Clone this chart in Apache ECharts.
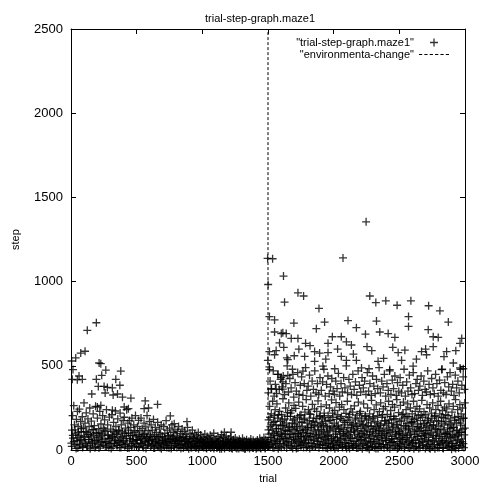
<!DOCTYPE html>
<html>
<head>
<meta charset="utf-8">
<title>trial-step-graph.maze1</title>
<script src="https://cdn.jsdelivr.net/npm/echarts@6/dist/echarts.min.js"></script>
<style>
  html, body { margin: 0; padding: 0; background: #fff; }
  #main { width: 486px; height: 489px; }
</style>
</head>
<body>
<div id="main"></div>
<script>
// 数据：从图上估读的 [trial, step]
const chartTitle = 'trial-step-graph.maze1';
const seriesName = '"trial-step-graph.maze1"';
const changeName = '"environmenta-change"';
const changeTrial = 1500;
const xMax = 3000;
const yMax = 2500;

// 环境变化前，底部密集带
const beforeLow = [
  [3,42],[8,118],[12,205],[15,71],[21,264],[26,150],[30,33],[35,96],[41,182],[46,57],[49,230],
  [52,12],[55,140],[61,88],[64,243],[68,29],[73,170],[77,110],[82,61],[86,198],[91,20],[95,132],[99,280],
  [103,75],[107,160],[112,38],[116,221],[120,105],[125,18],[129,185],[134,64],[138,140],[143,250],[147,92],
  [151,30],[155,172],[160,120],[164,48],[169,215],[173,86],[178,145],[182,14],[187,260],[191,104],[196,58],
  [201,190],[205,35],[210,128],[214,76],[219,230],[223,22],[228,155],[232,95],[237,50],[241,205],[246,130],
  [252,66],[256,180],[261,25],[265,112],[270,240],[274,45],[279,150],[283,88],[288,15],[292,196],[297,70],
  [302,125],[306,38],[311,210],[315,82],[320,20],[324,165],[329,102],[333,55],[338,232],[342,140],[347,28],
  [352,90],[356,185],[361,48],[365,120],[370,15],[374,220],[379,72],[383,150],[388,35],[392,108],[397,175],
  [401,58],[406,195],[410,22],[415,130],[419,85],[424,240],[428,40],[433,160],[437,100],[442,12],[446,175],
  [451,68],[455,135],[460,28],[464,190],[469,88],[473,50],[478,150],[482,18],[487,115],[491,205],[496,62],
  [502,35],[506,140],[511,92],[515,176],[520,20],[524,115],[529,60],[533,190],[538,42],[542,128],[547,80],
  [552,15],[556,160],[561,100],[565,48],[570,138],[574,70],[579,205],[583,30],[588,115],[592,55],[597,170],
  [601,90],[606,22],[610,150],[615,62],[619,118],[624,38],[628,182],[633,80],[637,12],[642,135],[646,52],
  [651,105],[655,28],[660,165],[664,72],[669,45],[673,125],[678,15],[682,95],[687,150],[691,35],[696,82],
  [701,58],[706,140],[710,20],[715,100],[719,66],[724,175],[728,30],[733,118],[737,48],[742,85],[746,12],
  [751,130],[755,55],[760,90],[764,25],[769,150],[773,70],[778,105],[782,18],[787,62],[791,120],[796,40],
  [801,85],[806,15],[810,110],[815,50],[819,140],[824,28],[828,75],[833,98],[837,10],[842,60],[846,125],
  [851,35],[855,80],[860,18],[864,112],[869,52],[873,92],[878,25],[882,70],[887,135],[891,42],[896,8],
  [901,65],[906,100],[910,30],[915,80],[919,15],[924,118],[928,50],[933,72],[937,22],[942,95],[946,40],
  [951,12],[955,85],[960,55],[964,30],[969,105],[973,68],[978,18],[982,45],[987,90],[991,25],[996,60],
  [1001,38],[1006,75],[1010,15],[1015,52],[1019,95],[1024,28],[1028,62],[1033,10],[1037,80],[1042,44],[1046,22],
  [1051,68],[1055,35],[1060,88],[1064,12],[1069,50],[1073,72],[1078,25],[1082,40],[1087,100],[1091,18],[1096,58],
  [1101,30],[1106,65],[1110,14],[1115,48],[1119,82],[1124,22],[1128,55],[1133,8],[1137,70],[1142,36],[1146,92],
  [1151,20],[1155,52],[1160,75],[1164,30],[1169,10],[1173,60],[1178,42],[1182,85],[1187,18],[1191,48],[1196,28],
  [1201,66],[1206,12],[1210,40],[1215,78],[1219,25],[1224,55],[1228,8],[1233,35],[1237,62],[1242,20],[1246,45],
  [1251,72],[1255,15],[1260,38],[1264,58],[1269,22],[1273,48],[1278,10],[1282,65],[1287,30],[1291,52],[1296,16],
  [1301,42],[1306,70],[1310,12],[1315,35],[1319,55],[1324,24],[1328,8],[1333,48],[1337,62],[1342,18],[1346,38],
  [1351,28],[1355,52],[1360,10],[1364,44],[1369,66],[1373,20],[1378,35],[1382,14],[1387,58],[1391,30],[1396,45],
  [1401,22],[1406,50],[1410,8],[1415,38],[1419,60],[1424,16],[1428,42],[1433,28],[1437,70],[1442,12],[1446,48],
  [1451,32],[1455,55],[1460,18],[1464,40],[1469,75],[1473,25],[1478,10],[1482,62],[1487,35],[1491,50],[1496,20]
];

// 环境变化前，最底层
const beforeBottom = [
  [6,22],[14,88],[22,50],[31,120],[39,10],[47,72],[56,105],[63,35],[71,60],[80,128],[88,15],[97,82],
  [106,48],[113,110],[121,25],[130,95],[138,62],[146,8],[155,78],[163,40],[171,122],[180,55],[188,20],[197,98],
  [206,65],[213,12],[221,102],[230,45],[238,85],[246,30],[255,118],[263,52],[271,18],[280,90],[288,68],[296,38],
  [306,10],[313,75],[321,112],[330,42],[338,60],[346,95],[355,28],[363,115],[371,58],[380,15],[388,80],[396,48],
  [406,100],[413,32],[421,70],[430,12],[438,118],[446,55],[455,88],[463,22],[471,62],[480,105],[488,40],[496,78],
  [506,58],[513,15],[521,85],[530,40],[538,70],[546,25],[555,92],[563,50],[571,10],[580,75],[588,35],[596,60],
  [606,82],[613,28],[621,55],[630,12],[638,90],[646,45],[655,65],[663,20],[671,80],[680,38],[688,8],[696,58],
  [706,30],[713,72],[721,48],[730,15],[738,85],[746,40],[755,62],[763,10],[771,50],[780,78],[788,25],[796,55],
  [806,42],[813,68],[821,18],[830,58],[838,32],[846,75],[855,12],[863,50],[871,35],[880,65],[888,22],[896,45],
  [906,55],[913,15],[921,38],[930,70],[938,28],[946,52],[955,20],[963,60],[971,8],[980,42],[988,65],[996,30],
  [1006,48],[1013,22],[1021,40],[1030,12],[1038,55],[1046,30],[1055,18],[1063,45],[1071,28],[1080,52],[1088,10],[1096,36],
  [1106,42],[1113,15],[1121,50],[1130,25],[1138,38],[1146,8],[1155,32],[1163,48],[1171,18],[1180,40],[1188,25],[1196,52],
  [1206,28],[1213,45],[1221,12],[1230,35],[1238,50],[1246,20],[1255,40],[1263,10],[1271,32],[1280,48],[1288,18],[1296,38],
  [1306,22],[1313,42],[1321,8],[1330,30],[1338,45],[1346,15],[1355,38],[1363,20],[1371,48],[1380,28],[1388,12],[1396,35],
  [1406,30],[1413,15],[1421,45],[1430,22],[1438,38],[1446,10],[1455,42],[1463,25],[1471,50],[1480,15],[1488,32],[1496,45]
];

// 环境变化前，零散的高点
const beforeHigh = [
  [5,529],[15,478],[36,547],[74,576],[107,587],[124,711],[193,756],[214,517],[227,513],[265,475],
  [10,420],[48,417],[86,420],[61,440],[379,469],[193,420],[234,444],[341,420],[208,378],[252,378],
  [277,372],[315,370],[372,385],[158,333],[260,339],[321,327],[354,333],[392,314],[456,308],[565,292],
  [659,271],[756,203],[883,169],[786,157],[1168,106],[1219,106],[557,246],[590,250],[405,256],[437,246],
  [201,256],[227,265],[315,237]
];

// 环境变化后，底部密集带
const afterLow = [
  [1502,45],[1505,180],[1508,95],[1512,260],[1515,20],[1518,140],[1522,72],[1525,215],[1528,35],[1532,118],[1535,290],[1538,60],[1542,165],[1545,12],[1548,205],
  [1551,88],[1554,240],[1558,30],[1561,150],[1564,110],[1568,275],[1571,50],[1574,190],[1578,8],[1581,128],[1584,70],[1588,230],[1591,40],[1594,170],[1598,100],
  [1601,15],[1604,210],[1608,82],[1611,145],[1614,305],[1618,55],[1621,120],[1624,25],[1628,185],[1631,95],[1634,250],[1638,42],[1641,160],[1644,68],[1648,222],
  [1651,112],[1654,30],[1658,280],[1661,75],[1664,140],[1668,18],[1671,200],[1674,92],[1678,48],[1681,235],[1684,125],[1688,10],[1691,178],[1694,62],[1698,265],
  [1701,38],[1704,155],[1708,100],[1711,248],[1714,22],[1718,130],[1721,70],[1724,195],[1728,12],[1731,90],[1734,285],[1738,52],[1741,168],[1744,115],[1748,28],
  [1751,210],[1754,80],[1758,142],[1761,35],[1764,260],[1768,105],[1771,15],[1774,182],[1778,60],[1781,225],[1784,122],[1788,44],[1791,300],[1794,88],[1798,160],
  [1801,20],[1804,135],[1808,240],[1811,65],[1814,175],[1818,10],[1821,98],[1824,212],[1828,40],[1831,150],[1834,78],[1838,272],[1841,25],[1844,118],[1848,190],
  [1851,55],[1854,245],[1858,108],[1861,18],[1864,165],[1868,85],[1871,230],[1874,35],[1878,138],[1881,292],[1884,68],[1888,12],[1891,200],[1894,95],[1898,150],
  [1901,30],[1904,258],[1908,120],[1911,72],[1914,185],[1918,15],[1921,145],[1924,48],[1928,220],[1931,102],[1934,28],[1938,170],[1941,82],[1944,268],[1948,58],
  [1951,132],[1954,10],[1958,205],[1961,90],[1964,40],[1968,250],[1971,115],[1974,22],[1978,178],[1981,65],[1984,298],[1988,142],[1991,35],[1994,195],[1998,80],
  [2001,18],[2004,160],[2008,235],[2011,55],[2014,108],[2018,282],[2021,28],[2024,140],[2028,75],[2031,210],[2034,12],[2038,125],[2041,45],[2044,255],[2048,95],
  [2051,188],[2054,32],[2058,130],[2061,270],[2064,68],[2068,15],[2071,175],[2074,98],[2078,240],[2081,42],[2084,150],[2088,85],[2091,20],[2094,218],[2098,112],
  [2101,58],[2104,290],[2108,135],[2111,25],[2114,195],[2118,78],[2121,10],[2124,165],[2128,105],[2131,245],[2134,38],[2138,148],[2141,70],[2144,225],[2148,18],
  [2151,120],[2154,50],[2158,262],[2161,90],[2164,180],[2168,30],[2171,142],[2174,12],[2178,208],[2181,72],[2184,115],[2188,285],[2191,40],[2194,160],[2198,95],
  [2201,22],[2204,230],[2208,128],[2211,62],[2214,190],[2218,8],[2221,150],[2224,85],[2228,275],[2231,35],[2234,112],[2238,200],[2241,55],[2244,138],[2248,15],
  [2251,178],[2254,92],[2258,250],[2261,28],[2264,145],[2268,68],[2271,5],[2274,215],[2278,108],[2281,45],[2284,162],[2288,295],[2291,80],[2294,20],[2298,190],
  [2301,125],[2304,52],[2308,240],[2311,15],[2314,170],[2318,98],[2321,35],[2324,268],[2328,140],[2331,62],[2334,205],[2338,10],[2341,118],[2344,78],[2348,228],
  [2351,42],[2354,155],[2358,280],[2361,88],[2364,20],[2368,195],[2371,110],[2374,55],[2378,245],[2381,130],[2384,12],[2388,172],[2391,70],[2394,258],[2398,32],
  [2401,148],[2404,95],[2408,212],[2411,25],[2414,120],[2418,290],[2421,60],[2424,180],[2428,8],[2431,105],[2434,235],[2438,45],[2441,160],[2444,82],[2448,270],
  [2451,18],[2454,138],[2458,200],[2461,65],[2464,255],[2468,110],[2471,30],[2474,185],[2478,90],[2481,300],[2484,50],[2488,150],[2491,12],[2494,222],[2498,100],
  [2501,40],[2504,170],[2508,265],[2511,75],[2514,130],[2518,22],[2521,210],[2524,95],[2528,48],[2531,285],[2534,145],[2538,10],[2541,190],[2544,62],[2548,118],
  [2551,240],[2554,35],[2558,158],[2561,88],[2564,275],[2568,15],[2571,125],[2574,198],[2578,55],[2581,102],[2584,250],[2588,28],[2591,168],[2594,72],[2598,215],
  [2601,45],[2604,140],[2608,290],[2611,8],[2614,182],[2618,92],[2621,230],[2624,60],[2628,120],[2631,20],[2634,260],[2638,155],[2641,80],[2644,205],[2648,38],
  [2651,112],[2654,245],[2658,15],[2661,175],[2664,68],[2668,135],[2671,295],[2674,50],[2678,195],[2681,25],[2684,100],[2688,228],[2691,85],[2694,160],[2698,10],
  [2701,210],[2704,58],[2708,145],[2711,270],[2714,32],[2718,118],[2721,185],[2724,75],[2728,12],[2731,250],[2734,95],[2738,165],[2741,42],[2744,220],[2748,130],
  [2751,20],[2754,280],[2758,88],[2761,150],[2764,55],[2768,200],[2771,8],[2774,125],[2778,240],[2781,70],[2784,175],[2788,30],[2791,108],[2794,265],[2798,48],
  [2801,142],[2804,15],[2808,215],[2811,95],[2814,290],[2818,40],[2821,160],[2824,68],[2828,235],[2831,12],[2834,120],[2838,190],[2841,58],[2844,255],[2848,100],
  [2851,30],[2854,170],[2858,82],[2861,245],[2864,18],[2868,132],[2871,205],[2874,50],[2878,275],[2881,110],[2884,25],[2888,185],[2891,72],[2894,150],[2898,5],
  [2901,225],[2904,92],[2908,40],[2911,260],[2914,135],[2918,15],[2921,195],[2924,78],[2928,300],[2931,55],[2934,162],[2938,28],[2941,118],[2944,240],[2948,85],
  [2951,12],[2954,180],[2958,105],[2961,270],[2964,45],[2968,148],[2971,215],[2974,65],[2978,22],[2981,250],[2984,125],[2988,38],[2991,190],[2994,90],[2998,280]
];

// 环境变化后，最底层
const afterBottom = [
  [1504,120],[1510,30],[1516,195],[1523,75],[1529,150],[1536,15],[1542,100],[1549,55],
  [1553,170],[1559,40],[1566,128],[1572,85],[1579,210],[1585,20],[1592,62],[1598,145],
  [1603,92],[1609,180],[1616,35],[1622,150],[1629,68],[1635,115],[1642,12],[1648,200],
  [1653,50],[1659,135],[1666,95],[1672,220],[1679,25],[1685,160],[1692,78],[1698,120],
  [1703,185],[1709,60],[1716,10],[1722,140],[1729,98],[1735,45],[1742,205],[1748,82],
  [1753,28],[1759,165],[1766,118],[1772,55],[1779,190],[1785,72],[1792,15],[1798,130],
  [1803,100],[1809,42],[1816,215],[1822,80],[1829,135],[1835,22],[1842,170],[1848,60],
  [1853,145],[1859,18],[1866,92],[1872,188],[1879,50],[1885,120],[1892,35],[1898,205],
  [1903,75],[1909,158],[1916,30],[1922,110],[1929,195],[1935,62],[1942,12],[1948,140],
  [1953,88],[1959,38],[1966,175],[1972,125],[1979,15],[1985,70],[1992,220],[1998,48],
  [2003,132],[2009,8],[2016,95],[2022,182],[2029,58],[2035,148],[2042,30],[2048,110],
  [2053,65],[2059,200],[2066,20],[2072,122],[2079,85],[2085,165],[2092,45],[2098,10],
  [2103,178],[2109,95],[2116,40],[2122,212],[2129,70],[2135,130],[2142,18],[2148,155],
  [2153,28],[2159,108],[2166,190],[2172,55],[2179,140],[2185,12],[2192,82],[2198,218],
  [2203,60],[2209,172],[2216,100],[2222,30],[2229,150],[2235,75],[2242,205],[2248,42],
  [2253,118],[2259,15],[2266,185],[2272,90],[2279,52],[2285,140],[2292,22],[2298,108],
  [2303,198],[2309,65],[2316,130],[2322,10],[2329,88],[2335,162],[2342,40],[2348,115],
  [2353,20],[2359,145],[2366,72],[2372,210],[2379,32],[2385,100],[2392,175],[2398,58],
  [2403,85],[2409,15],[2416,160],[2422,118],[2429,45],[2435,200],[2442,68],[2448,132],
  [2453,50],[2459,185],[2466,25],[2472,95],[2479,150],[2485,8],[2492,120],[2498,70],
  [2503,110],[2509,35],[2516,178],[2522,62],[2529,215],[2535,88],[2542,18],[2548,142],
  [2553,75],[2559,200],[2566,48],[2572,130],[2579,12],[2585,95],[2592,165],[2598,38],
  [2603,168],[2609,58],[2616,112],[2622,20],[2629,190],[2635,82],[2642,140],[2648,10],
  [2653,45],[2659,128],[2666,210],[2672,88],[2679,30],[2685,155],[2692,65],[2698,115],
  [2703,95],[2709,20],[2716,175],[2722,50],[2729,138],[2735,8],[2742,102],[2748,190],
  [2753,60],[2759,148],[2766,32],[2772,205],[2779,85],[2785,120],[2792,15],[2798,170],
  [2803,80],[2809,35],[2816,125],[2822,195],[2829,55],[2835,10],[2842,150],[2848,92],
  [2853,210],[2859,45],[2866,100],[2872,18],[2879,160],[2885,72],[2892,128],[2898,40],
  [2903,22],[2909,135],[2916,85],[2922,175],[2929,10],[2935,115],[2942,60],[2948,200],
  [2953,95],[2959,30],[2966,160],[2972,105],[2979,50],[2985,188],[2992,15],[2998,130]
];

// 环境变化后，中间一层
const afterMid = [
  [1503,340],[1516,410],[1527,365],[1540,470],[1547,320],[1556,390],[1566,335],[1576,450],[1586,360],[1596,420],
  [1606,375],[1616,440],[1626,330],[1636,395],[1646,500],[1656,345],[1666,425],[1676,370],[1686,480],[1696,315],
  [1706,400],[1716,350],[1726,460],[1736,330],[1746,385],[1756,435],[1766,325],[1776,395],[1786,490],[1796,355],
  [1806,380],[1816,445],[1826,320],[1836,410],[1846,360],[1856,470],[1866,340],[1876,395],[1886,330],[1896,430],
  [1906,355],[1916,405],[1926,480],[1936,320],[1946,390],[1956,440],[1966,335],[1976,375],[1986,425],[1996,350],
  [2006,330],[2016,410],[2026,365],[2036,455],[2046,320],[2056,395],[2066,345],[2076,430],[2086,370],[2096,500],
  [2106,340],[2116,420],[2126,380],[2136,330],[2146,450],[2156,360],[2166,405],[2176,325],[2186,470],[2196,385],
  [2206,345],[2216,430],[2226,370],[2236,410],[2246,330],[2256,460],[2266,350],[2276,395],[2286,325],[2296,440],
  [2306,380],[2316,335],[2326,420],[2336,365],[2346,490],[2356,340],[2366,410],[2376,375],[2386,450],[2396,320],
  [2406,395],[2416,355],[2426,470],[2436,330],[2446,415],[2456,365],[2466,440],[2476,325],[2486,400],[2496,350],
  [2506,430],[2516,340],[2526,385],[2536,480],[2546,320],[2556,405],[2566,350],[2576,445],[2586,370],[2596,330],
  [2606,460],[2616,335],[2626,395],[2636,420],[2646,355],[2656,380],[2666,440],[2676,325],[2686,410],[2696,360],
  [2706,345],[2716,470],[2726,390],[2736,330],[2746,425],[2756,370],[2766,335],[2776,450],[2786,395],[2796,320],
  [2806,415],[2816,355],[2826,480],[2836,340],[2846,400],[2856,330],[2866,435],[2876,375],[2886,460],[2896,350],
  [2906,390],[2916,325],[2926,445],[2936,370],[2946,410],[2956,340],[2966,480],[2976,385],[2986,435],[2996,360]
];

// 环境变化后，零散的高点
const afterHigh = [
  [1497,1138],[1535,1136],[1501,983],[1618,1033],[1626,878],[2071,1141],[2247,1355],[1728,934],[1771,915],[1888,841],
  [1697,754],[1931,760],[2109,769],[2173,727],[2275,915],[2321,876],[2397,886],[2483,860],[2588,886],[2570,793],
  [2570,734],[2723,857],[2809,827],[2873,760],[2326,766],[2242,688],[2351,701],[2415,692],[2466,669],[1990,673],
  [1868,721],[2720,715],[2758,673],[2796,669],[2975,663],[2058,673],[2097,643],[2135,624],[2254,614],[2962,634],
  [1639,692],[1677,663],[1728,663],[1786,634],[1735,599],[1957,634],[1855,585],[1893,576],[1957,579],[2491,579],
  [2542,593],[2758,614],[2669,585],[2707,566],[2860,585],[2058,556],[2097,533],[2173,533],[2269,483],[2338,527],
  [2517,533],[2605,498],[2962,488],[2987,483],[2911,517],[1644,547],[1779,556],[1855,527],[1690,449],[1766,469],
  [1918,498],[2008,483],[2212,488],[2427,478],[2822,478],
  [1511,793],[1550,773],[1550,701],[1601,692],[1613,696],[1588,637],[1562,591],[1511,585],[1550,566],[1499,533],
  [1511,494],[1511,478],[1651,537],[1575,449],[1601,430],[1524,362],[1562,362],[1613,362],[1613,405],[1651,444],
  [1620,610],[1700,560],[1820,620],[1940,540],[2030,600],[2150,570],[2290,590],[2380,545],[2450,610],[2630,540],
  [2700,600],[2840,555],[2930,590]
];

// gnuplot 风格的 "+" 点和虚线图例
const plusSymbol = 'path://M0,3.35L8,3.35L8,4.65L0,4.65Z M3.35,0L4.65,0L4.65,8L3.35,8Z';
const dashIcon = 'path://M0,0H3V1H0Z M5,0H8V1H5Z M10,0H13V1H10Z M15,0H18V1H15Z M20,0H23V1H20Z M25,0H28V1H25Z';

const allPoints = beforeBottom.concat(beforeLow, beforeHigh, afterBottom, afterLow, afterMid, afterHigh);
const changeLine = [[changeTrial, 0], [changeTrial, yMax]];

const chart = echarts.init(document.getElementById('main'), null, { renderer: 'canvas' });

const fontFamily = '"Liberation Sans", Arial, Helvetica, sans-serif';

// 每根轴都要新的对象，onZero 关掉，不然顶部/右侧的轴会跑到零点
function frameLine() {
  return { show: true, onZero: false, lineStyle: { color: '#000', width: 1 } };
}
function innerTick() {
  return { show: true, inside: true, length: 5, lineStyle: { color: '#000', width: 1 } };
}
function plainLabel(v) {
  return String(v);
}

chart.setOption({
  animation: false,
  backgroundColor: '#fff',
  textStyle: { fontFamily: fontFamily, color: '#000' },
  title: {
    text: chartTitle,
    left: 200,
    top: 8,
    textStyle: { fontSize: 11, fontWeight: 'normal', color: '#000', fontFamily: fontFamily }
  },
  legend: {
    orient: 'vertical',
    right: 32,
    top: 32,
    align: 'right',
    itemGap: 1,
    itemWidth: 30,
    itemHeight: 8,
    textStyle: { fontSize: 11, color: '#000', fontFamily: fontFamily },
    data: [
      { name: seriesName, icon: plusSymbol },
      { name: changeName, icon: dashIcon }
    ]
  },
  grid: { left: 71, right: 21, top: 29, bottom: 30, containLabel: false },
  xAxis: [
    {
      type: 'value', min: 0, max: xMax, interval: 500,
      name: 'trial', nameLocation: 'middle', nameGap: 18,
      nameTextStyle: { fontSize: 11, color: '#000' },
      axisLine: frameLine(), axisTick: innerTick(),
      axisLabel: { fontSize: 13, color: '#000', margin: 5, formatter: plainLabel },
      splitLine: { show: false }
    },
    {
      type: 'value', min: 0, max: xMax, interval: 500, position: 'top',
      axisLine: frameLine(), axisTick: innerTick(),
      axisLabel: { show: false }, splitLine: { show: false }
    }
  ],
  yAxis: [
    {
      type: 'value', min: 0, max: yMax, interval: 500,
      name: 'step', nameLocation: 'middle', nameGap: 50, nameRotate: 90,
      nameTextStyle: { fontSize: 11, color: '#000' },
      axisLine: frameLine(), axisTick: innerTick(),
      axisLabel: { fontSize: 13, color: '#000', margin: 8, formatter: plainLabel },
      splitLine: { show: false }
    },
    {
      type: 'value', min: 0, max: yMax, interval: 500, position: 'right',
      axisLine: frameLine(), axisTick: innerTick(),
      axisLabel: { show: false }, splitLine: { show: false }
    }
  ],
  series: [
    {
      name: seriesName,
      type: 'scatter',
      symbol: plusSymbol,
      symbolSize: 8,
      silent: true,
      itemStyle: { color: '#000' },
      data: allPoints
    },
    {
      name: changeName,
      type: 'line',
      symbol: 'none',
      silent: true,
      lineStyle: { color: '#000', width: 1, type: [3, 2] },
      itemStyle: { color: '#000' },
      data: changeLine
    }
  ]
});
</script>
</body>
</html>
